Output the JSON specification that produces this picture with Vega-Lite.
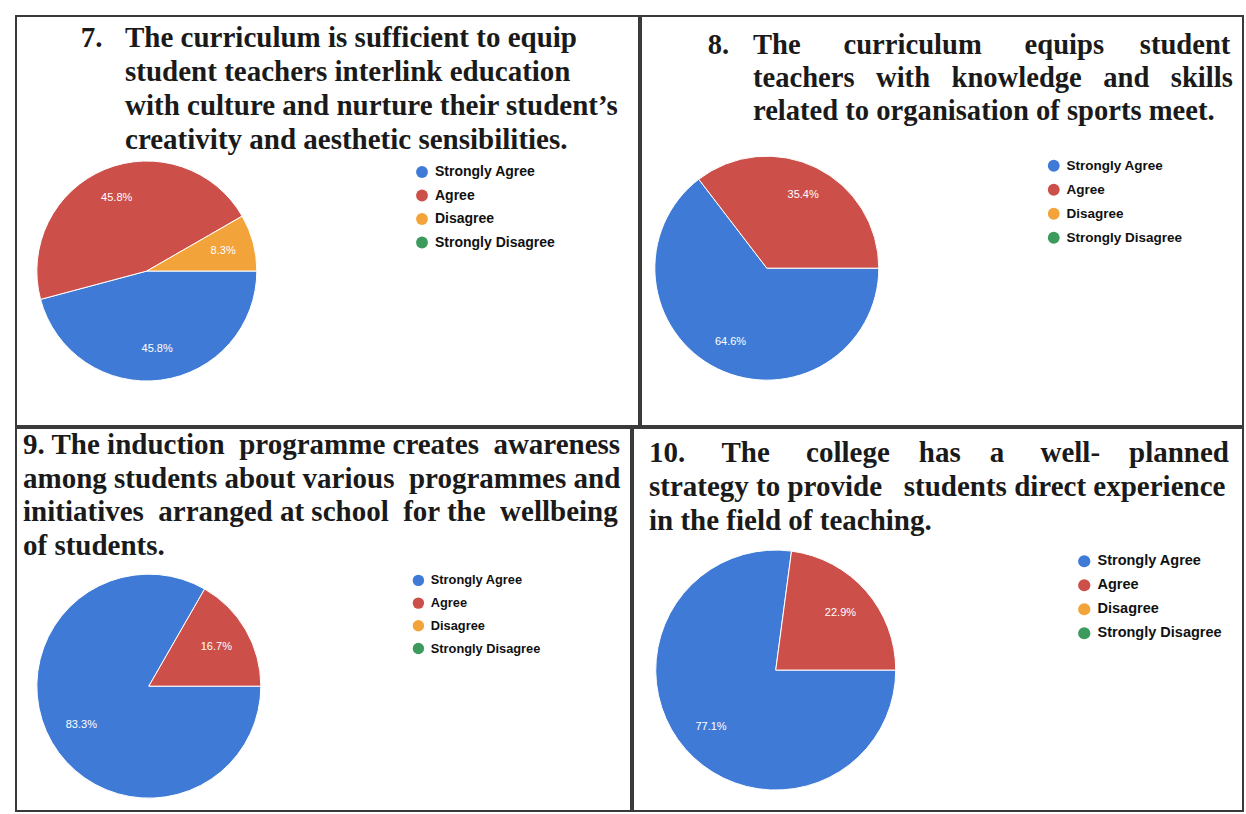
{
  "$schema": "https://vega.github.io/schema/vega-lite/v6.json",
  "padding": {"left": 15, "top": 15, "right": 0, "bottom": 0},
  "background": "white",
  "spacing": 0,
  "config": {
    "view": {"stroke": "#3a3a3a", "strokeWidth": 2},
    "concat": {"spacing": 0}
  },
  "resolve": {"scale": {"x": "independent", "y": "independent", "theta": "independent", "color": "independent"}, "legend": {"color": "independent"}},
  "vconcat": [
    {
      "spacing": 0,
      "resolve": {"scale": {"x": "independent", "y": "independent", "theta": "independent", "color": "independent"}, "legend": {"color": "independent"}},
      "hconcat": [
        {
          "width": 623, "height": 410,
          "data": {"values": [
            {"response": "Strongly Agree", "pct": 45.8, "label": "45.8%", "k": 1},
            {"response": "Agree", "pct": 45.8, "label": "45.8%", "k": 2},
            {"response": "Disagree", "pct": 8.3, "label": "8.3%", "k": 3}
          ]},
          "layer": [
            {
              "mark": {"type": "arc", "outerRadius": 110, "stroke": "white", "strokeWidth": 1},
              "encoding": {
                "theta": {"field": "pct", "type": "quantitative", "stack": true, "scale": {"range": [1.5708, 7.854]}},
                "order": {"field": "k", "type": "quantitative"},
                "color": {"field": "response", "type": "nominal",
                  "scale": {"domain": ["Strongly Agree", "Agree", "Disagree", "Strongly Disagree"], "range": ["#3f7bd6", "#cd4f49", "#f2a33a", "#3c9a5c"]},
                  "legend": {"orient": "none", "legendX": 399, "legendY": 149, "title": null, "symbolType": "circle", "symbolSize": 140, "symbolStrokeWidth": 0, "labelFont": "Liberation Sans", "labelFontSize": 14, "labelFontWeight": "bold", "labelColor": "#111", "labelOffset": 6, "rowPadding": 9.5}},
                "x": {"datum": 0.21, "type": "quantitative", "scale": {"domain": [0, 1], "nice": false, "zero": false}, "axis": null},
                "y": {"datum": 0.622, "type": "quantitative", "scale": {"domain": [0, 1], "nice": false, "zero": false, "reverse": true}, "axis": null}
              }
            },
            {
              "mark": {"type": "text", "radius": 79, "fill": "white", "fontSize": 11, "font": "Liberation Sans"},
              "encoding": {
                "theta": {"field": "pct", "type": "quantitative", "stack": true},
                "order": {"field": "k", "type": "quantitative"},
                "text": {"field": "label"},
                "x": {"datum": 0.21, "type": "quantitative"},
                "y": {"datum": 0.622, "type": "quantitative"}
              }
            },
            {
              "data": {"values": [{"n": "7."}]},
              "mark": {"type": "text", "align": "left", "baseline": "alphabetic", "font": "Liberation Serif", "fontSize": 29, "fontWeight": "bold", "fill": "#1a1a1a"},
              "encoding": {"text": {"field": "n"}, "x": {"datum": 0.104, "type": "quantitative"}, "y": {"datum": 0.076, "type": "quantitative"}}
            },
            {
              "data": {"values": [{"n": "q7"}]},
              "mark": {"type": "text", "align": "left", "baseline": "alphabetic", "font": "Liberation Serif", "fontSize": 29, "fontWeight": "bold", "fill": "#1a1a1a", "lineHeight": 34,
                "text": ["The curriculum is sufficient to equip", "student teachers interlink education", "with culture and nurture their student’s", "creativity and aesthetic sensibilities."]},
              "encoding": {"x": {"datum": 0.175, "type": "quantitative"}, "y": {"datum": 0.076, "type": "quantitative"}}
            }
          ]
        },
        {
          "width": 602, "height": 410,
          "data": {"values": [
            {"response": "Strongly Agree", "pct": 64.6, "label": "64.6%", "k": 1},
            {"response": "Agree", "pct": 35.4, "label": "35.4%", "k": 2}
          ]},
          "layer": [
            {
              "mark": {"type": "arc", "outerRadius": 112, "stroke": "white", "strokeWidth": 1},
              "encoding": {
                "theta": {"field": "pct", "type": "quantitative", "stack": true, "scale": {"range": [1.5708, 7.854]}},
                "order": {"field": "k", "type": "quantitative"},
                "color": {"field": "response", "type": "nominal",
                  "scale": {"domain": ["Strongly Agree", "Agree", "Disagree", "Strongly Disagree"], "range": ["#3f7bd6", "#cd4f49", "#f2a33a", "#3c9a5c"]},
                  "legend": {"orient": "none", "legendX": 406, "legendY": 143, "title": null, "symbolType": "circle", "symbolSize": 140, "symbolStrokeWidth": 0, "labelFont": "Liberation Sans", "labelFontSize": 13.5, "labelFontWeight": "bold", "labelColor": "#111", "labelOffset": 6, "rowPadding": 9}},
                "x": {"datum": 0.209, "type": "quantitative", "scale": {"domain": [0, 1], "nice": false, "zero": false}, "axis": null},
                "y": {"datum": 0.615, "type": "quantitative", "scale": {"domain": [0, 1], "nice": false, "zero": false, "reverse": true}, "axis": null}
              }
            },
            {
              "mark": {"type": "text", "radius": 82, "fill": "white", "fontSize": 11, "font": "Liberation Sans"},
              "encoding": {
                "theta": {"field": "pct", "type": "quantitative", "stack": true},
                "order": {"field": "k", "type": "quantitative"},
                "text": {"field": "label"},
                "x": {"datum": 0.209, "type": "quantitative"},
                "y": {"datum": 0.615, "type": "quantitative"}
              }
            },
            {
              "data": {"values": [{"n": "8."}]},
              "mark": {"type": "text", "align": "left", "baseline": "alphabetic", "font": "Liberation Serif", "fontSize": 28.6, "fontWeight": "bold", "fill": "#1a1a1a"},
              "encoding": {"text": {"field": "n"}, "x": {"datum": 0.111, "type": "quantitative"}, "y": {"datum": 0.092, "type": "quantitative"}}
            },
            {
              "data": {"values": [{"n": "q8"}]},
              "mark": {"type": "text", "align": "left", "baseline": "alphabetic", "font": "Liberation Serif", "fontSize": 28.6, "fontWeight": "bold", "fill": "#1a1a1a", "lineHeight": 33,
                "text": ["The\u00a0\u00a0\u00a0\u00a0\u00a0\u00a0curriculum\u00a0\u00a0\u00a0\u00a0\u00a0\u00a0equips\u00a0\u00a0\u00a0\u00a0\u00a0student", "teachers\u00a0\u00a0\u00a0with\u00a0\u00a0\u00a0knowledge\u00a0\u00a0\u00a0and\u00a0\u00a0\u00a0skills", "related to organisation of sports meet."]},
              "encoding": {"x": {"datum": 0.186, "type": "quantitative"}, "y": {"datum": 0.092, "type": "quantitative"}}
            }
          ]
        }
      ]
    },
    {
      "spacing": 0,
      "resolve": {"scale": {"x": "independent", "y": "independent", "theta": "independent", "color": "independent"}, "legend": {"color": "independent"}},
      "hconcat": [
        {
          "width": 615, "height": 383,
          "data": {"values": [
            {"response": "Strongly Agree", "pct": 83.3, "label": "83.3%", "k": 1},
            {"response": "Agree", "pct": 16.7, "label": "16.7%", "k": 2}
          ]},
          "layer": [
            {
              "mark": {"type": "arc", "outerRadius": 112, "stroke": "white", "strokeWidth": 1},
              "encoding": {
                "theta": {"field": "pct", "type": "quantitative", "stack": true, "scale": {"range": [1.5708, 7.854]}},
                "order": {"field": "k", "type": "quantitative"},
                "color": {"field": "response", "type": "nominal",
                  "scale": {"domain": ["Strongly Agree", "Agree", "Disagree", "Strongly Disagree"], "range": ["#3f7bd6", "#cd4f49", "#f2a33a", "#3c9a5c"]},
                  "legend": {"orient": "none", "legendX": 396, "legendY": 146, "title": null, "symbolType": "circle", "symbolSize": 130, "symbolStrokeWidth": 0, "labelFont": "Liberation Sans", "labelFontSize": 12.8, "labelFontWeight": "bold", "labelColor": "#111", "labelOffset": 6, "rowPadding": 8.7}},
                "x": {"datum": 0.216, "type": "quantitative", "scale": {"domain": [0, 1], "nice": false, "zero": false}, "axis": null},
                "y": {"datum": 0.674, "type": "quantitative", "scale": {"domain": [0, 1], "nice": false, "zero": false, "reverse": true}, "axis": null}
              }
            },
            {
              "mark": {"type": "text", "radius": 78, "fill": "white", "fontSize": 11, "font": "Liberation Sans"},
              "encoding": {
                "theta": {"field": "pct", "type": "quantitative", "stack": true},
                "order": {"field": "k", "type": "quantitative"},
                "text": {"field": "label"},
                "x": {"datum": 0.216, "type": "quantitative"},
                "y": {"datum": 0.674, "type": "quantitative"}
              }
            },
            {
              "data": {"values": [{"n": "q9"}]},
              "mark": {"type": "text", "align": "left", "baseline": "alphabetic", "font": "Liberation Serif", "fontSize": 29, "fontWeight": "bold", "fill": "#1a1a1a", "lineHeight": 33.5,
                "text": ["9. The induction\u00a0 programme creates\u00a0 awareness", "among students about various\u00a0 programmes and", "initiatives\u00a0 arranged at school\u00a0 for the\u00a0 wellbeing", "of students."]},
              "encoding": {"x": {"datum": 0.0114, "type": "quantitative"}, "y": {"datum": 0.068, "type": "quantitative"}}
            }
          ]
        },
        {
          "width": 610, "height": 383,
          "data": {"values": [
            {"response": "Strongly Agree", "pct": 77.1, "label": "77.1%", "k": 1},
            {"response": "Agree", "pct": 22.9, "label": "22.9%", "k": 2}
          ]},
          "layer": [
            {
              "mark": {"type": "arc", "outerRadius": 120, "stroke": "white", "strokeWidth": 1},
              "encoding": {
                "theta": {"field": "pct", "type": "quantitative", "stack": true, "scale": {"range": [1.5708, 7.854]}},
                "order": {"field": "k", "type": "quantitative"},
                "color": {"field": "response", "type": "nominal",
                  "scale": {"domain": ["Strongly Agree", "Agree", "Disagree", "Strongly Disagree"], "range": ["#3f7bd6", "#cd4f49", "#f2a33a", "#3c9a5c"]},
                  "legend": {"orient": "none", "legendX": 444, "legendY": 126, "title": null, "symbolType": "circle", "symbolSize": 150, "symbolStrokeWidth": 0, "labelFont": "Liberation Sans", "labelFontSize": 14.5, "labelFontWeight": "bold", "labelColor": "#111", "labelOffset": 6, "rowPadding": 9}},
                "x": {"datum": 0.234, "type": "quantitative", "scale": {"domain": [0, 1], "nice": false, "zero": false}, "axis": null},
                "y": {"datum": 0.632, "type": "quantitative", "scale": {"domain": [0, 1], "nice": false, "zero": false, "reverse": true}, "axis": null}
              }
            },
            {
              "mark": {"type": "text", "radius": 86, "fill": "white", "fontSize": 11, "font": "Liberation Sans"},
              "encoding": {
                "theta": {"field": "pct", "type": "quantitative", "stack": true},
                "order": {"field": "k", "type": "quantitative"},
                "text": {"field": "label"},
                "x": {"datum": 0.234, "type": "quantitative"},
                "y": {"datum": 0.632, "type": "quantitative"}
              }
            },
            {
              "data": {"values": [{"n": "q10"}]},
              "mark": {"type": "text", "align": "left", "baseline": "alphabetic", "font": "Liberation Serif", "fontSize": 29, "fontWeight": "bold", "fill": "#1a1a1a", "lineHeight": 34,
                "text": ["10.\u00a0\u00a0\u00a0\u00a0\u00a0The\u00a0\u00a0\u00a0\u00a0\u00a0college\u00a0\u00a0\u00a0\u00a0has\u00a0\u00a0\u00a0\u00a0a\u00a0\u00a0\u00a0\u00a0\u00a0well-\u00a0\u00a0\u00a0\u00a0planned", "strategy to provide\u00a0\u00a0\u00a0students direct\u00a0experience", "in the field of teaching."]},
              "encoding": {"x": {"datum": 0.0262, "type": "quantitative"}, "y": {"datum": 0.0888, "type": "quantitative"}}
            }
          ]
        }
      ]
    }
  ]
}
